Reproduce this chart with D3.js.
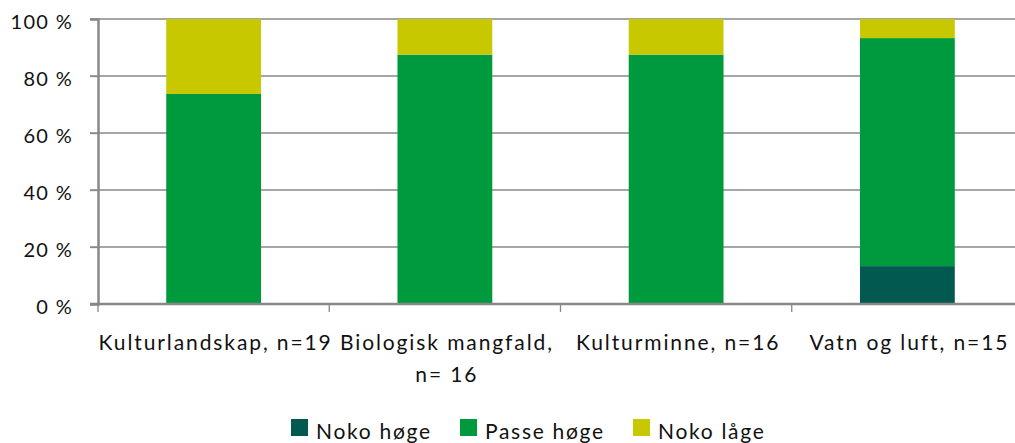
<!DOCTYPE html>
<html>
<head>
<meta charset="utf-8">
<script src="https://cdn.jsdelivr.net/npm/d3@7"></script>
<style>
  body { margin: 0; background: #fff; }
  text { font-family: Lato, "Open Sans", sans-serif; fill: #111; }
</style>
</head>
<body>
<div id="container"></div>
<script>
/* DATA */
const categories = ["Kulturlandskap, n=19", "Biologisk mangfald, n= 16", "Kulturminne, n=16", "Vatn og luft, n=15"];
const labelLines = [["Kulturlandskap, n=19"], ["Biologisk mangfald,", "n= 16"], ["Kulturminne, n=16"], ["Vatn og luft, n=15"]];
const seriesNames = ["Noko høge", "Passe høge", "Noko låge"];
const nokoHoge = [0, 0, 0, 13.3];
const passeHoge = [73.7, 87.5, 87.5, 80.0];
const nokoLage = [26.3, 12.5, 12.5, 6.7];
const yTicks = [0, 20, 40, 60, 80, 100];
const colors = ["#02594f", "#009a3e", "#c8c800"];

const width = 1015, height = 443;
const plotLeft = 98, plotTop = 19, plotBottom = 304, plotRight = 1023;

const rows = categories.map((c, i) => ({
  cat: c, "Noko høge": nokoHoge[i], "Passe høge": passeHoge[i], "Noko låge": nokoLage[i]
}));
const stacked = d3.stack().keys(seriesNames)(rows);

/* SCALES */
const xScale = d3.scaleBand().domain(categories).range([plotLeft, plotRight]).paddingInner(0.59).paddingOuter(0.295);
const xTickScale = d3.scaleBand().domain(categories).range([plotLeft, plotRight]);
const yScale = d3.scaleLinear().domain([0, 100]).range([plotBottom, plotTop]);
const color = d3.scaleOrdinal().domain(seriesNames).range(colors);

const svg = d3.select("#container").append("svg")
  .attr("width", width).attr("height", height);

// grid lines
svg.append("g").selectAll("line").data(yTicks.slice(1)).join("line")
  .attr("x1", plotLeft - 8).attr("x2", width)
  .attr("y1", d => yScale(d)).attr("y2", d => yScale(d))
  .attr("stroke", "#888").attr("stroke-width", 1.3);

// bars
svg.append("g").selectAll("g").data(stacked).join("g")
  .attr("fill", d => color(d.key))
  .selectAll("rect").data(d => d).join("rect")
  .attr("x", d => xScale(d.data.cat))
  .attr("width", xScale.bandwidth())
  .attr("y", d => yScale(d[1]))
  .attr("height", d => yScale(d[0]) - yScale(d[1]));

// y axis
const yAxis = svg.append("g").attr("transform", `translate(${plotLeft},0)`)
  .call(d3.axisLeft(yScale).tickValues(yTicks).tickSize(8).tickPadding(17).tickFormat(d => d + " %"));
yAxis.select(".domain").attr("stroke", "#888").attr("stroke-width", 2.5);
yAxis.selectAll(".tick line").attr("stroke", "#888").attr("stroke-width", 1.3);
yAxis.selectAll(".tick text").attr("font-size", 20).attr("font-family", "Lato, sans-serif")
  .attr("fill", "#111").attr("letter-spacing", 1.3).attr("dy", "0.45em");

// x axis
svg.append("line").attr("x1", plotLeft - 8).attr("x2", width)
  .attr("y1", plotBottom).attr("y2", plotBottom).attr("stroke", "#888").attr("stroke-width", 2.5);
svg.append("g").selectAll("line").data(categories).join("line")
  .attr("x1", d => xTickScale(d)).attr("x2", d => xTickScale(d))
  .attr("y1", plotBottom).attr("y2", plotBottom + 8)
  .attr("stroke", "#888").attr("stroke-width", 1.3);

const xl = svg.append("g").selectAll("text").data(categories).join("text")
  .attr("text-anchor", "middle")
  .attr("font-size", 21)
  .attr("letter-spacing", 1.9);
xl.each(function(d, i) {
  const t = d3.select(this);
  labelLines[i].forEach((line, j) => {
    t.append("tspan")
      .attr("x", xTickScale(d) + xTickScale.bandwidth() / 2 + 2)
      .attr("y", 350 + j * 32)
      .text(line);
  });
});

// legend
const legendX = [291, 460, 633];
const legend = svg.append("g").selectAll("g").data(seriesNames).join("g")
  .attr("transform", (d, i) => `translate(${legendX[i]},419)`);
legend.append("rect").attr("width", 17).attr("height", 17).attr("fill", d => color(d));
legend.append("text").attr("x", 25).attr("y", 20).attr("font-size", 21)
  .attr("letter-spacing", 1.7).text(d => d);
</script>
</body>
</html>
